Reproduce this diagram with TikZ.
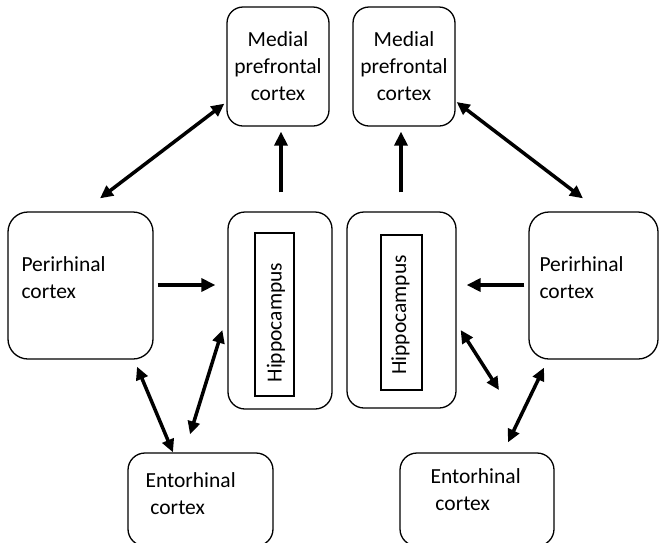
\documentclass[tikz,border=0pt]{standalone}
\usepackage{fontspec}
\setmainfont{Carlito}
\usetikzlibrary{arrows.meta,calc}
\begin{document}
\begin{tikzpicture}[x=1pt,y=-1pt,
  box/.style={draw, line width=1.3pt, inner sep=0pt, rounded corners=#1},
  inbox/.style={draw, line width=1.3pt, inner sep=0pt},
  txt/.style={font=\fontsize{21.5pt}{27pt}\selectfont, inner sep=0pt},
  harrow/.style={line width=4.5pt, -{Triangle[length=14pt,width=13pt]}},
  darrow/.style={line width=3.5pt, {Triangle[length=13pt,width=12pt]}-{Triangle[length=13pt,width=12pt]}}
]
\useasboundingbox (0,0) rectangle (659,542);
\clip (0,0) rectangle (659,542);

% medial prefrontal boxes
\node[box=16, txt, align=center, minimum width=102pt, minimum height=119pt] (lmpfc) at (278,66.5) {Medial\\prefrontal\\cortex};
\node[box=16, txt, align=center, minimum width=102pt, minimum height=119pt] (rmpfc) at (404,66.5) {Medial\\prefrontal\\cortex};

% perirhinal boxes
\node[box=20, minimum width=145pt, minimum height=147pt] (lperi) at (80.5,285.5) {};
\node[box=20, minimum width=129pt, minimum height=147pt] (rperi) at (593.5,285.5) {};
\node[txt, align=left, anchor=west] (lperit) at ($(lperi.west)+(14,-8)$) {Perirhinal\\cortex};
\node[txt, align=left, anchor=west] (rperit) at ($(rperi.west)+(11,-8)$) {Perirhinal\\cortex};

% hippocampus boxes
\node[box=17, minimum width=104pt, minimum height=197pt] (lhip) at (280,310.5) {};
\node[box=17, minimum width=109pt, minimum height=196pt] (rhip) at (401.5,310) {};
\node[inbox, minimum width=39pt, minimum height=163pt] (lin) at (274.5,314.5) {};
\node[inbox, minimum width=41pt, minimum height=155pt] (rin) at (401.5,312.5) {};
\node[txt, rotate=90] (lhipt) at ($(lin.center)+(1.5,8)$) {Hippocampus};
\node[txt, rotate=90] (rhipt) at ($(rin.center)+(-1,2.5)$) {Hippocampus};

% entorhinal boxes
\node[box=17, minimum width=145pt, minimum height=93pt] (lento) at (200.5,499.5) {};
\node[box=17, minimum width=154pt, minimum height=93pt] (rento) at (477,499.5) {};
\node[txt, align=left, anchor=west] (lentot) at ($(lento.west)+(18,-5.5)$) {Entorhinal\\\hspace*{0.23em}cortex};
\node[txt, align=left, anchor=west] (rentot) at ($(rento.west)+(31,-10)$) {Entorhinal\\\hspace*{0.23em}cortex};

\coordinate (free) at (499,390);

% connectors
\draw[darrow] ($(lperi.north)+(19.5,-13)$) -- ($(lmpfc.south west)+(-2,-23)$);
\draw[harrow] ($(lhip.north)+(1,-19)$) -- ($(lmpfc.south)+(3,5)$);
\draw[harrow] ($(rhip.north)+(-0.5,-19)$) -- ($(rmpfc.south)+(-3,5)$);
\draw[darrow] ($(rmpfc.east)+(1,35.5)$) -- ($(rperi.north)+(-10.5,-13)$);
\draw[harrow] ($(lperi.east)+(4,-0.5)$) -- ($(lhip.west)+(-12,-25.5)$);
\draw[harrow] ($(rperi.west)+(-4,-0.5)$) -- ($(rhip.east)+(10,-25)$);
\draw[darrow] ($(lperi.south)+(56.5,7)$) -- ($(lento.north)+(-27.5,0)$);
\draw[darrow] ($(lento.north)+(-10.5,-18)$) -- ($(lhip.west)+(-5,19.5)$);
\draw[darrow] ($(rhip.east)+(4,20)$) -- (free);
\draw[darrow] ($(rento.north)+(31,-10)$) -- ($(rperi.south)+(-49.5,8)$);
\end{tikzpicture}
\end{document}
